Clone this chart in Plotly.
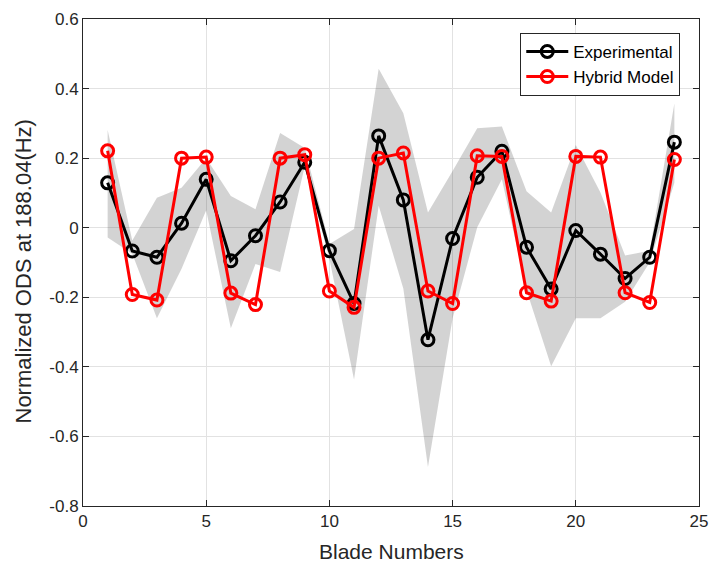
import plotly.graph_objects as go

blades = list(range(1, 25))
experimental = [0.129, -0.067, -0.085, 0.013, 0.139, -0.095, -0.023, 0.074, 0.188, -0.066,
                -0.218, 0.264, 0.080, -0.322, -0.031, 0.145, 0.220, -0.056, -0.176, -0.008,
                -0.076, -0.146, -0.085, 0.246]
hybrid = [0.221, -0.192, -0.208, 0.200, 0.203, -0.188, -0.221, 0.200, 0.210, -0.182,
          -0.229, 0.200, 0.215, -0.182, -0.218, 0.207, 0.205, -0.187, -0.211, 0.205,
          0.203, -0.187, -0.215, 0.196]
band_upper = [0.281, -0.037, 0.086, 0.115, 0.200, 0.091, 0.053, 0.272, 0.229, -0.047,
              -0.004, 0.457, 0.329, 0.044, 0.163, 0.286, 0.291, 0.105, 0.044, 0.238,
              0.101, -0.080, -0.066, 0.357]
band_lower = [-0.028, -0.075, -0.260, -0.118, 0.050, -0.289, -0.104, -0.127, 0.177, -0.089,
              -0.436, 0.063, -0.175, -0.688, -0.260, 0.001, 0.139, -0.180, -0.398, -0.260,
              -0.260, -0.213, -0.099, 0.129]

x_ticks = [0, 5, 10, 15, 20, 25]
x_ticklabels = ["0", "5", "10", "15", "20", "25"]
y_ticks = [-0.8, -0.6, -0.4, -0.2, 0, 0.2, 0.4, 0.6]
y_ticklabels = ["-0.8", "-0.6", "-0.4", "-0.2", "0", "0.2", "0.4", "0.6"]

FONT = "Liberation Sans, Arial, Helvetica, sans-serif"
TXT = "#262626"

fig = go.Figure()
fig.add_trace(go.Scatter(
    x=blades + blades[::-1],
    y=band_upper + band_lower[::-1],
    fill="toself",
    fillcolor="rgba(48,48,48,0.21)",
    line=dict(width=0, color="rgba(0,0,0,0)"),
    mode="lines",
    hoverinfo="skip",
    showlegend=False,
))
fig.add_trace(go.Scatter(
    x=blades, y=experimental, name="Experimental",
    mode="lines+markers",
    line=dict(color="#000000", width=3),
    marker=dict(symbol="circle-open", size=12, color="#000000", line=dict(width=3, color="#000000")),
))
fig.add_trace(go.Scatter(
    x=blades, y=hybrid, name="Hybrid Model",
    mode="lines+markers",
    line=dict(color="#ff0000", width=3),
    marker=dict(symbol="circle-open", size=12, color="#ff0000", line=dict(width=3, color="#ff0000")),
))

axis_common = dict(
    showgrid=True, gridcolor="#e2e2e2", gridwidth=1,
    zeroline=False,
    showline=True, linecolor=TXT, linewidth=1, mirror="ticks",
    ticks="inside", ticklen=6, tickcolor=TXT, tickwidth=1,
    tickfont=dict(family=FONT, size=17, color=TXT),
)
fig.update_xaxes(range=[0, 25], tickvals=x_ticks, ticktext=x_ticklabels, **axis_common)
fig.update_yaxes(range=[-0.8, 0.6], tickvals=y_ticks, ticktext=y_ticklabels, **axis_common)

fig.add_annotation(text="Blade Numbers", xref="paper", yref="paper", x=0.5, y=0,
                   xanchor="center", yanchor="middle", yshift=-45, showarrow=False,
                   font=dict(family=FONT, size=21, color=TXT))
fig.add_annotation(text="Normalized ODS at 188.04(Hz)", xref="paper", yref="paper", x=0, y=0.5,
                   xanchor="center", yanchor="middle", xshift=-60, yshift=-9, textangle=-90,
                   showarrow=False, font=dict(family=FONT, size=22, color=TXT))

fig.update_layout(
    width=718, height=563,
    margin=dict(l=83, r=10, t=15, b=57),
    paper_bgcolor="white", plot_bgcolor="white",
    font=dict(family=FONT, color=TXT),
    legend=dict(
        x=0.9696, y=0.9715, xanchor="right", yanchor="top",
        bgcolor="white", bordercolor="#262626", borderwidth=1,
        font=dict(family=FONT, size=17, color="#000000"),
        tracegroupgap=0, itemwidth=42,
    ),
)

fig.write_html("out.html", config={"displayModeBar": False},
               post_script="document.body.style.margin='0px';document.body.style.overflow='hidden';")
